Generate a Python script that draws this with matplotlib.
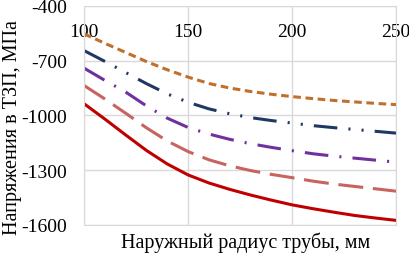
import numpy as np
import matplotlib
matplotlib.use("Agg")
import matplotlib.pyplot as plt

# outer tube radius, mm
r = [100, 110, 120, 130, 140, 150, 160, 170, 180, 190, 200, 210, 220, 230, 240, 250]

# stresses in the heat-protective coating, MPa
s_orange = [-553, -605, -655, -705, -750, -790, -825, -850, -869, -884, -897, -908, -918, -926, -934, -941]
s_navy = [-645, -704, -765, -826, -882, -928, -964, -991, -1012, -1028, -1042, -1056, -1067, -1077, -1087, -1097]
s_purple = [-741, -808, -872, -948, -1015, -1066, -1102, -1131, -1155, -1175, -1193, -1210, -1223, -1234, -1245, -1256]
s_pink = [-836, -910, -988, -1068, -1140, -1198, -1243, -1276, -1302, -1323, -1341, -1360, -1376, -1389, -1402, -1415]
s_red = [-936, -1020, -1107, -1192, -1266, -1326, -1370, -1405, -1436, -1464, -1490, -1511, -1530, -1548, -1562, -1575]

xticks = [100, 150, 200, 250]
yticks = [-1600, -1300, -1000, -700, -400]

plt.rcParams['font.family'] = ['Liberation Serif', 'DejaVu Serif']
plt.rcParams['axes.unicode_minus'] = False
plt.rcParams['lines.scale_dashes'] = False

fig = plt.figure(figsize=(4.1, 2.55), dpi=100)
ax = fig.add_axes([0.205, 0.114, 0.761, 0.859])

lw = 2.2
kw = dict(lw=lw, solid_joinstyle='round', dash_joinstyle='round')
ax.plot(r, s_orange, color='#C0702C', dashes=(5.5, 3.3), **kw)
ax.plot(r, s_navy, color='#1F3864', dashes=(17, 8, 1.5, 8, 1.5, 8), **kw)
ax.plot(r, s_purple, color='#7030A0', dashes=(17, 8, 1.5, 8), **kw)
ax.plot(r, s_pink, color='#C86460', dashes=(18, 7), **kw)
ax.plot(r, s_red, color='#C00000', **kw)

ax.set_xlim(100, 250)
ax.set_ylim(-1600, -400)
ax.set_xticks(xticks)
ax.set_yticks(yticks)
ax.grid(True, color='#D9D9D9', lw=1)
ax.set_axisbelow(True)
for sp in ax.spines.values():
    sp.set_color('#D9D9D9')

ax.tick_params(axis='x', top=False, labeltop=True, bottom=False, labelbottom=False,
               pad=-28, labelsize=14)
ax.tick_params(axis='y', length=0, labelsize=14, pad=12)

fig.text(0.598, 0.047, 'Наружный радиус трубы, мм', ha='center', va='center', fontsize=14.5)
fig.text(0.03, 0.5, 'Напряжения в ТЗП, МПа', ha='center', va='center',
         rotation=90, fontsize=14.5)

fig.savefig('out.png', dpi=100)
